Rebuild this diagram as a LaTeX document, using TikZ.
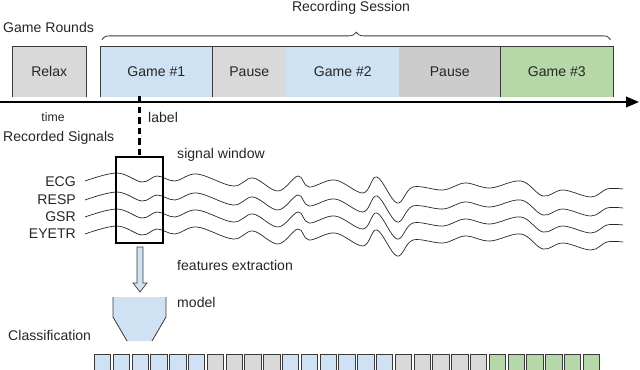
\documentclass[tikz,border=0pt]{standalone}
\usepackage{fontspec}
\setmainfont{Liberation Sans}
\usetikzlibrary{arrows.meta,decorations.pathreplacing,positioning}

\definecolor{gameblue}{HTML}{CFE2F3}
\definecolor{pausegray}{HTML}{D9D9D9}
\definecolor{pausedark}{HTML}{CCCCCC}
\definecolor{gamegreen}{HTML}{B6D7A8}
\definecolor{edge}{HTML}{3A3A3A}

\tikzset{
  phase/.style={minimum height=1.5cm, inner sep=0pt, anchor=south west},
  cell/.style={draw=edge, line width=0.8pt, minimum width=0.49cm, minimum height=0.6cm, inner sep=0pt, anchor=north west},
  wave/.style={line width=0.6pt, black!85}
}

\begin{document}
\begin{tikzpicture}[x=0.03cm, y=-0.03cm, every node/.style={font=\fontsize{12}{14}\selectfont, text=black!85, inner sep=0pt}]
  \useasboundingbox (0,0) rectangle (640,370);

  % game rounds
  \node[anchor=west] (rounds) at (3,27) {Game Rounds};
  \node[phase, fill=pausegray, minimum width=2.22cm] (relax) at (12,97) {Relax};
  \node[phase, fill=gameblue, minimum width=3.36cm] (game1) at (100,97) {Game \#1};
  \node[phase, fill=pausegray, minimum width=2.22cm] (pause1) at (212,97) {Pause};
  \node[phase, fill=gameblue, minimum width=3.39cm] (game2) at (286,97) {Game \#2};
  \node[phase, fill=pausedark, minimum width=3.03cm] (pause2) at (399,97) {Pause};
  \node[phase, fill=gamegreen, minimum width=3.39cm] (game3) at (500,97) {Game \#3};

  \draw[edge, line width=0.8pt] (relax.south west) |- (relax.north east) -- (relax.south east);
  \draw[edge, line width=0.8pt] (game1.south west) |- (game3.north east) -- (game3.south east);
  \draw[edge, line width=0.8pt] (game1.north east) -- (game1.south east);
  \draw[edge, line width=0.8pt] (pause2.north east) -- (pause2.south east);

  % recording session brace
  \node (session) at (351,8) {Recording Session};
  \draw[edge, line width=0.7pt, decorate, decoration={brace, amplitude=0.22cm}]
    ([xshift=0.06cm, yshift=0.21cm]game1.north west) -- ([xshift=-0.09cm, yshift=0.21cm]game3.north east);

  % time axis
  \coordinate (t0) at (0,102);
  \coordinate (t1) at (639,102);
  \draw[line width=1.5pt, -{Triangle[length=11pt, width=9pt]}] (t0) -- (t1);
  \node[font=\fontsize{10.5}{12}\selectfont] (time) at (53,117) {time};
  \node[anchor=west] (label) at (148,117) {label};

  % signals
  \node[anchor=west] (recorded) at (3,138) {Recorded Signals};
  \node[anchor=east] (ecg) at (76,182) {ECG};
  \node[anchor=east] (resp) at (76,200) {RESP};
  \node[anchor=east] (gsr) at (76,217) {GSR};
  \node[anchor=east] (eyetr) at (76,234) {EYETR};

  \foreach \dy in {0,19,36,53} {
    \draw[wave, shift={(0,\dy)}] plot[smooth, tension=0.6] coordinates {
      (85,181) (117,173) (142,182) (157,176) (175,181) (197,174) (233,186)
      (253,178) (278,191) (298,176) (309,187) (335,180) (363,193) (377,177)
      (397,203) (413,187) (443,190) (465,183) (490,188) (521,181) (543,196)
      (563,190) (591,197) (607,189) (623,189)};
  }

  % signal window
  \node[draw, line width=1.6pt, minimum width=1.41cm, minimum height=2.58cm] (window) at (139.5,200) {};
  \node[anchor=west] (windowtxt) at (177,155) {signal window};
  \coordinate (tick) at (139.5,96);
  \draw[line width=2pt, dash pattern=on 5.5pt off 3.5pt] (tick) -- (window.north);

  % features extraction
  \coordinate (fx) at (140,247);
  \draw[edge, line width=0.6pt, fill=gameblue] (fx) +(-3,0) -- +(3,0) -- +(3,36) -- +(7,36)
    -- +(0,45) -- +(-7,36) -- +(-3,36) -- cycle;
  \node[anchor=west] (features) at (177,265) {features extraction};

  % model
  \fill[gameblue] (113,297) -- (166,297) -- (166,317) -- (152,341) -- (127,341) -- (113,317) -- cycle;
  \draw[edge, line width=0.7pt] (113,297) -- (113,317) -- (127,341);
  \draw[edge, line width=0.7pt] (166,297) -- (166,317) -- (152,341);
  \node[anchor=west] (model) at (177,302) {model};

  % classification
  \node[anchor=west] (classif) at (8,335) {Classification};
  \foreach \i in {0,...,5,10,11,12,13,14,15}
    \node[cell, fill=gameblue] (c\i) at (94+\i*18.8,354) {};
  \foreach \i in {6,...,9,16,17,18,19,20}
    \node[cell, fill=pausegray] (c\i) at (94+\i*18.8,354) {};
  \foreach \i in {21,...,26}
    \node[cell, fill=gamegreen] (c\i) at (94+\i*18.8,354) {};
\end{tikzpicture}
\end{document}
